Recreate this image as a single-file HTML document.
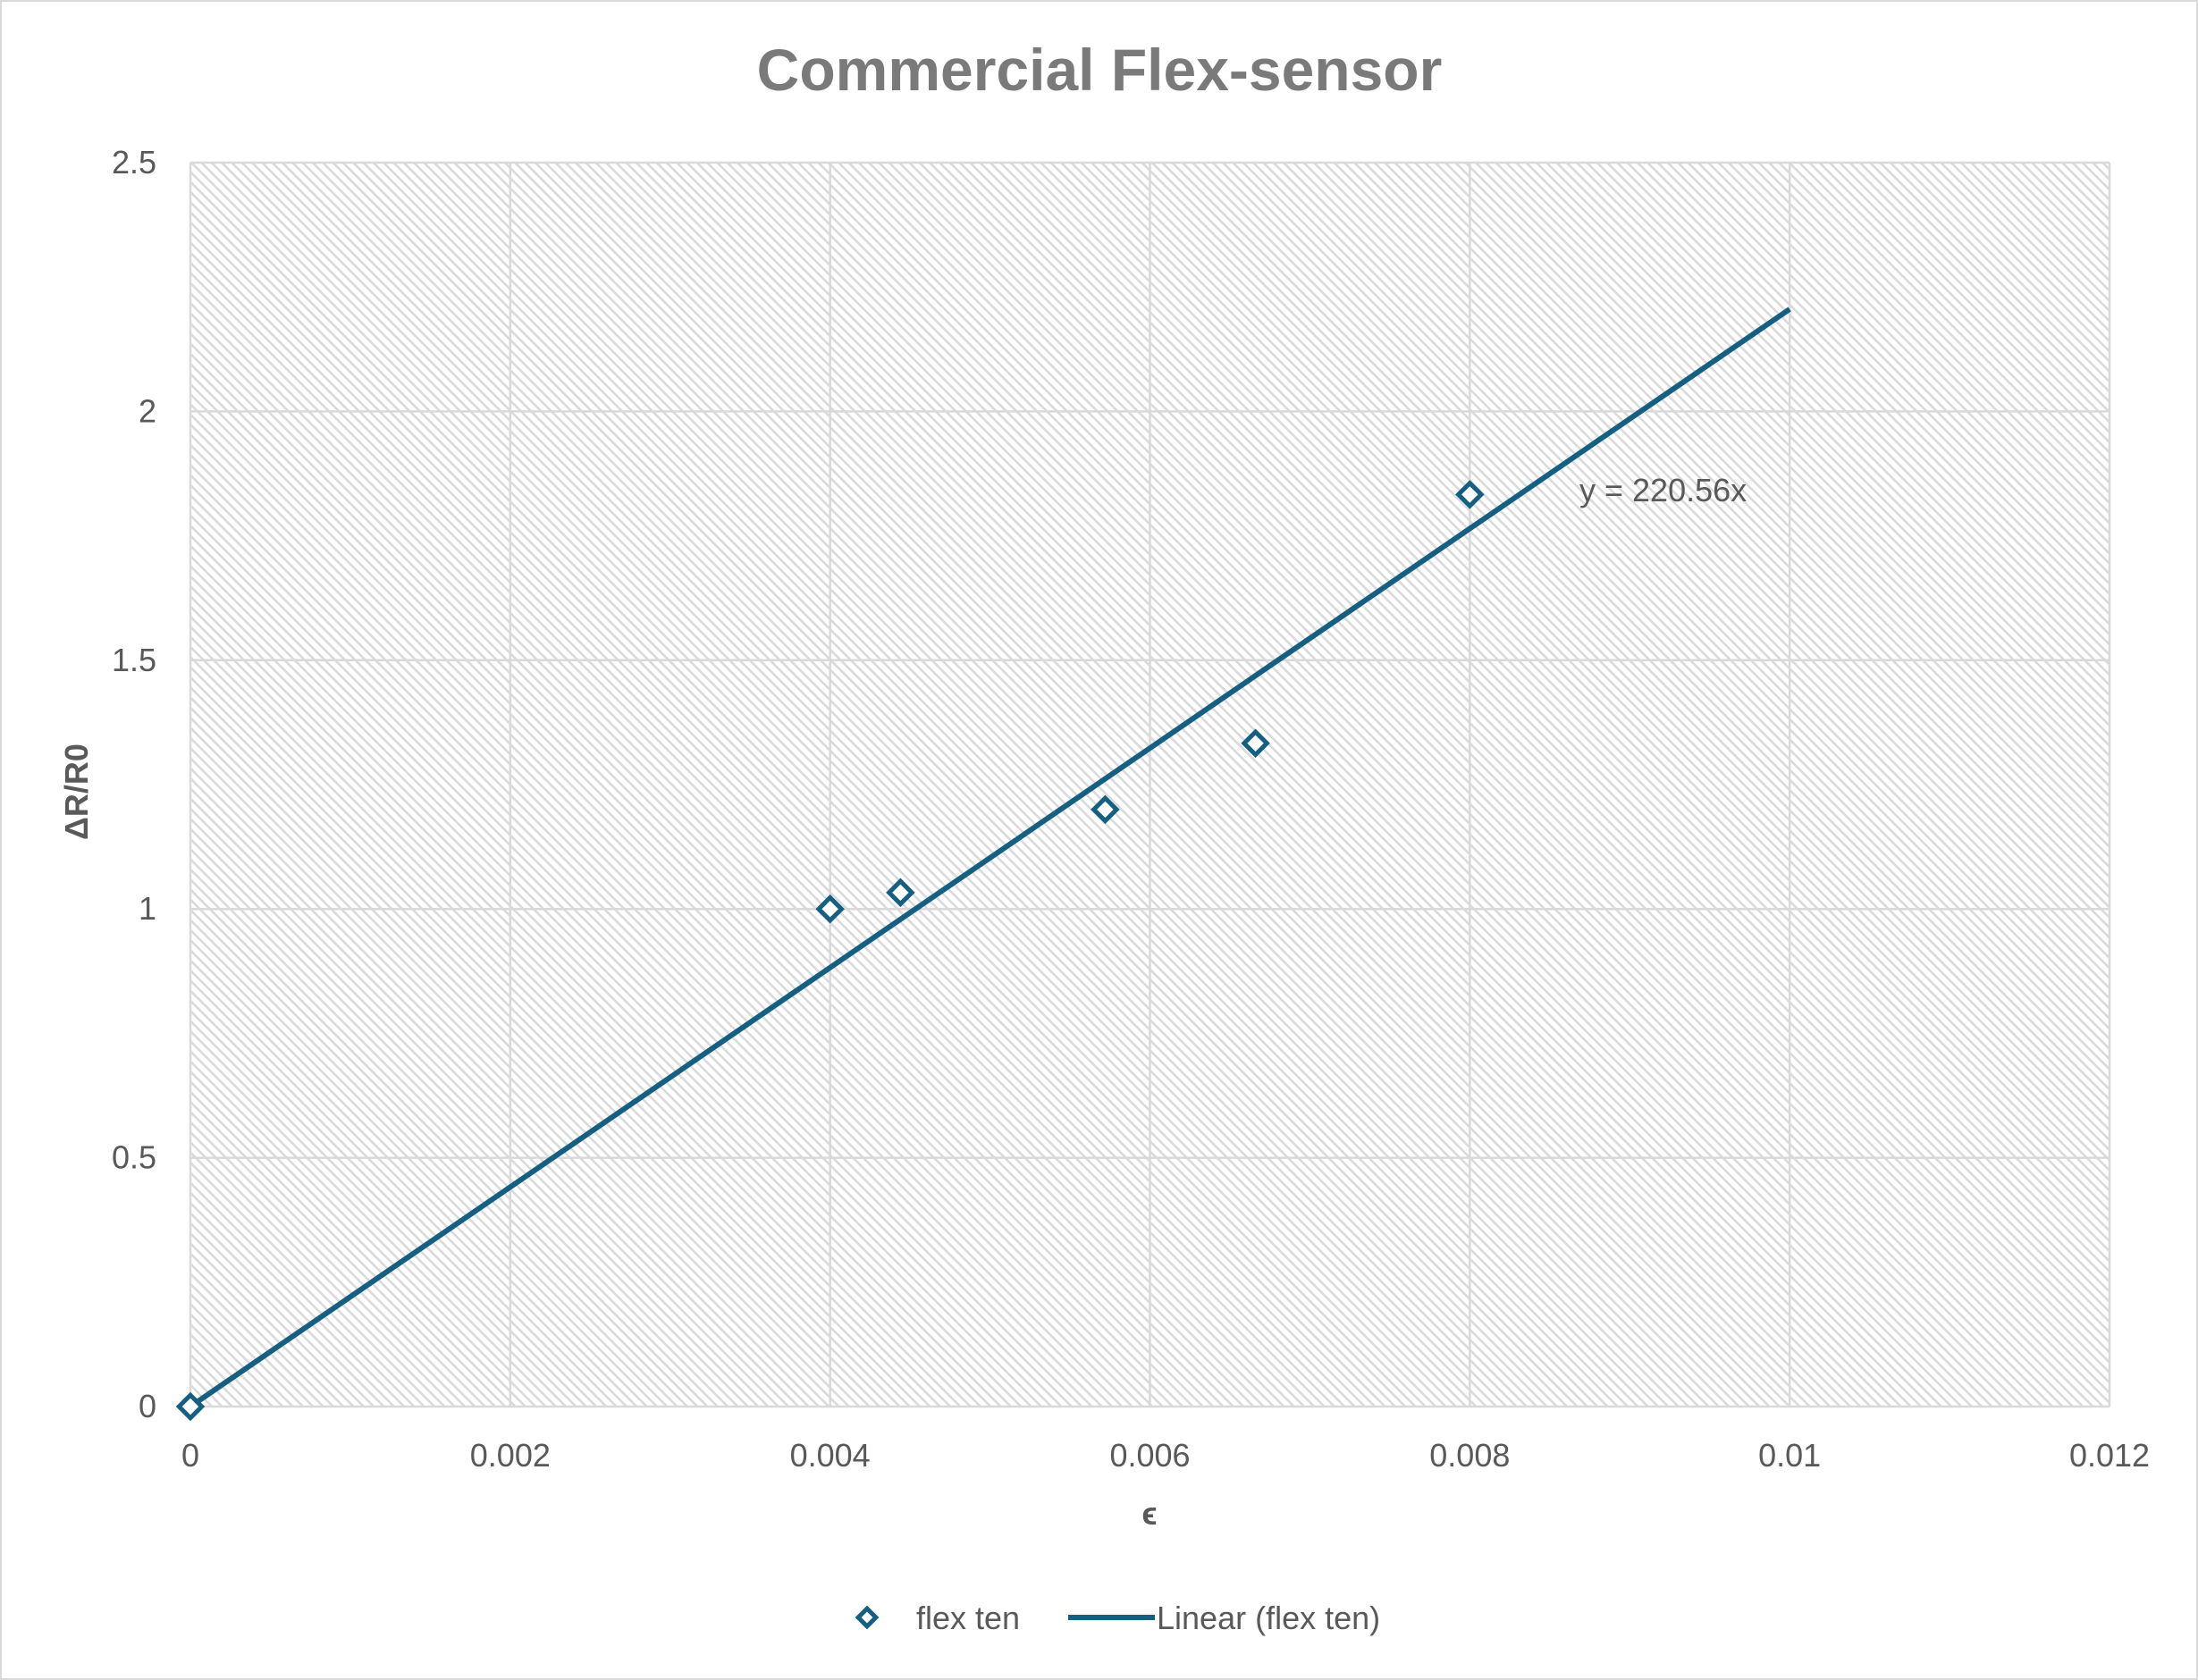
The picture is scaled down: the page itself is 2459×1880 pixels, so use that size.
<!DOCTYPE html>
<html><head><meta charset="utf-8"><style>
html,body{margin:0;padding:0;background:#fff;}
svg{display:block;font-family:"Liberation Sans",sans-serif;}
</style></head><body>
<svg id="chart" width="2459" height="1880" viewBox="0 0 2459 1880" xmlns="http://www.w3.org/2000/svg">
<defs>
<pattern id="hatch" patternUnits="userSpaceOnUse" width="8" height="8" patternTransform="rotate(45)">
<rect width="8" height="8" fill="#fff"/>
<rect x="0" y="0" width="8" height="2.6" fill="#dadada"/>
</pattern>
</defs>
<rect x="1" y="1" width="2457" height="1878" fill="#fff" stroke="#d9d9d9" stroke-width="2"/>
<text x="1230" y="101" text-anchor="middle" font-size="66" font-weight="bold" fill="#7a7a7a">Commercial Flex-sensor</text>
<rect x="213" y="182" width="2147" height="1392" fill="url(#hatch)"/>
<g id="grid"></g>
<g id="axes"></g>
<g id="marks"></g>
<text x="1767" y="561" font-size="36" fill="#595959">y = 220.56x</text>
<text x="1286" y="1706" text-anchor="middle" font-size="36" font-weight="bold" fill="#595959">ϵ</text>
<text transform="translate(98,886) rotate(-90)" text-anchor="middle" font-size="36" font-weight="bold" fill="#595959">ΔR/R0</text>
<g>
<rect x="963" y="1803" width="14" height="14" fill="#fff" stroke="#156082" stroke-width="5" transform="rotate(45 970 1810)"/>
<text x="1025" y="1823" font-size="36" fill="#595959">flex ten</text>
<line x1="1195" y1="1810" x2="1292" y2="1810" stroke="#156082" stroke-width="6"/>
<text x="1294" y="1823" font-size="36" fill="#595959">Linear (flex ten)</text>
</g>
</svg>
<script>
const xTicks=[0,0.002,0.004,0.006,0.008,0.01,0.012];
const xTickLabels=["0","0.002","0.004","0.006","0.008","0.01","0.012"];
const yTicks=[0,0.5,1,1.5,2,2.5];
const yTickLabels=["0","0.5","1","1.5","2","2.5"];
const xValues=[0,0.004,0.00444,0.00572,0.00666,0.008];
const yValues=[0,1.0,1.033,1.2,1.333,1.833];
const trendSlope=220.56;
const trendRange=[0,0.01];
const X0=213,X1=2360,Y0=1574,Y1=182;
const xs=v=>X0+(v-0)/(0.012)*(X1-X0);
const ys=v=>Y0-(v-0)/(2.5)*(Y0-Y1);
const NS="http://www.w3.org/2000/svg";
const grid=document.getElementById('grid'),axes=document.getElementById('axes'),marks=document.getElementById('marks');
function mk(t,a,p){const e=document.createElementNS(NS,t);for(const k in a)e.setAttribute(k,a[k]);p.appendChild(e);return e;}
xTicks.forEach((v,i)=>{
 const l=mk('line',{x1:xs(v),x2:xs(v),y1:Y1,y2:Y0,stroke:'#d9d9d9','stroke-width':2.5},grid);
 
 
 const t=mk('text',{x:xs(v),y:1641,'text-anchor':'middle','font-size':36,fill:'#595959'},axes);
 t.textContent=xTickLabels[i];
 
 
});
yTicks.forEach((v,i)=>{
 const l=mk('line',{x1:X0,x2:X1,y1:ys(v),y2:ys(v),stroke:'#d9d9d9','stroke-width':2.5},grid);
 
 
 const t=mk('text',{x:175,y:ys(v)+12,'text-anchor':'end','font-size':36,fill:'#595959'},axes);
 t.textContent=yTickLabels[i];
 
 
});
const tl=mk('line',{x1:xs(trendRange[0]),y1:ys(trendSlope*trendRange[0]),x2:xs(trendRange[1]),y2:ys(trendSlope*trendRange[1]),stroke:'#156082','stroke-width':6},marks);


xValues.forEach((v,i)=>{
 const cx=xs(v),cy=ys(yValues[i]);
 const r=mk('rect',{x:cx-9,y:cy-9,width:18,height:18,fill:'#fff',stroke:'#156082','stroke-width':5,transform:`rotate(45 ${cx} ${cy})`},marks);
 
 
});
</script>
</body></html>
